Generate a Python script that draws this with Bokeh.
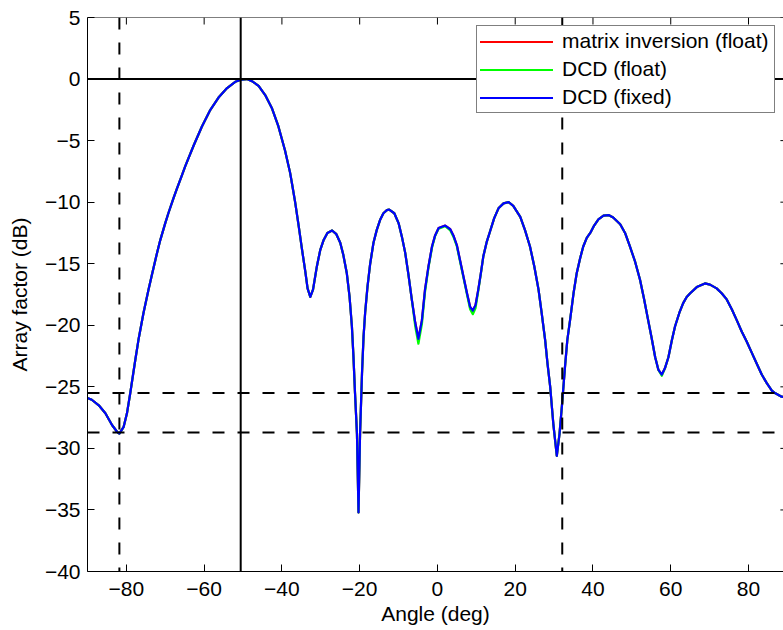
from bokeh.plotting import figure
from bokeh.models import (Span, Legend, LegendItem, FixedTicker,
                          Range1d, CustomJSTickFormatter)
from bokeh.embed import file_html
from bokeh.resources import INLINE

# ---------------- data ----------------
angle = [-90.0, -88.9, -87.1, -85.4, -83.7, -82.4, -81.8, -81.6, -80.7, -79.85,
         -79.0, -77.7, -76.9, -75.6, -74.3, -73.4, -72.1, -71.3, -70.0, -69.2,
         -67.9, -67.0, -65.7, -64.9, -62.7, -60.6, -58.4, -56.3, -54.1, -52.0,
         -50.3, -49.0, -47.7, -46.0, -44.3, -42.6, -40.9, -39.2, -37.9, -37.4,
         -36.6, -35.7, -34.9, -34.0, -33.4, -32.7, -32.0, -31.0, -30.15, -29.3,
         -28.3, -27.1, -26.0, -25.0, -24.2, -23.3, -22.6, -22.0, -21.6, -21.2,
         -20.7, -20.3, -19.9, -19.4, -19.0, -18.6, -18.0, -17.3, -16.45, -15.6,
         -14.7, -13.9, -13.0, -12.4, -11.1, -10.0, -9.15, -8.3, -7.45, -6.6,
         -5.7, -4.9, -4.0, -3.2, -2.3, -1.4, -0.6, 0.3, 2.0, 3.3,
         4.1, 5.0, 5.8, 6.7, 7.6, 8.4, 9.1, 9.8, 10.5, 11.15,
         11.8, 12.7, 13.5, 14.6, 15.7, 17.0, 18.3, 19.5, 21.3, 22.5,
         23.8, 24.9, 26.0, 26.8, 27.7, 28.3, 29.0, 29.8, 30.7, 31.4,
         32.0, 32.8, 33.4, 34.1, 35.0, 35.8, 36.7, 37.5, 38.4, 39.3,
         40.3, 41.4, 42.7, 44.0, 45.2, 47.0, 48.25, 49.5, 50.8, 52.1,
         53.1, 54.2, 55.1, 56.0, 56.8, 57.7, 58.5, 59.4, 60.3, 61.1,
         62.2, 63.2, 64.1, 65.0, 66.7, 68.8, 70.1, 71.8, 73.1, 74.4,
         75.7, 77.0, 78.25, 79.5, 80.8, 82.1, 83.4, 84.7, 86.0, 86.8,
         88.5, 90.0]

mi_float = [-25.9, -26.05, -26.5, -27.15, -28.1, -28.65, -28.8, -28.7, -28.25, -27.15,
            -25.5, -22.8, -21.2, -19.0, -17.1, -15.85, -14.1, -13.1, -11.7, -10.9,
            -9.7, -8.9, -7.8, -7.12, -5.4, -3.87, -2.5, -1.5, -0.73, -0.22,
            -0.04, 0.0, -0.17, -0.55, -1.3, -2.35, -3.85, -5.8, -7.6, -8.5,
            -10.0, -11.9, -13.7, -15.6, -17.0, -17.7, -17.1, -15.2, -13.9, -13.1,
            -12.5, -12.3, -12.6, -13.3, -14.3, -15.8, -17.7, -20.1, -22.55, -25.5,
            -28.8, -35.2, -28.8, -23.9, -20.9, -19.0, -16.9, -15.0, -13.3, -12.25,
            -11.4, -10.9, -10.65, -10.6, -10.9, -11.7, -12.8, -14.1, -15.9, -17.9,
            -19.8, -21.1, -19.6, -17.1, -15.2, -13.6, -12.7, -12.1, -11.9, -12.2,
            -12.7, -13.5, -14.7, -16.05, -17.4, -18.5, -18.8, -18.35, -17.1, -15.8,
            -14.4, -13.2, -12.4, -11.3, -10.5, -10.1, -10.0, -10.3, -11.2, -12.25,
            -13.6, -15.2, -17.1, -19.0, -21.2, -23.1, -25.0, -28.0, -30.6, -28.8,
            -26.6, -23.4, -21.2, -19.6, -17.4, -15.8, -14.55, -13.6, -12.9, -12.5,
            -11.9, -11.4, -11.1, -11.05, -11.25, -11.8, -12.5, -13.6, -14.8, -16.3,
            -17.8, -19.6, -21.05, -22.6, -23.6, -24.0, -23.5, -22.6, -21.2, -20.1,
            -19.0, -18.2, -17.7, -17.4, -16.9, -16.6, -16.7, -17.0, -17.4, -17.9,
            -18.7, -19.6, -20.5, -21.3, -22.2, -23.1, -24.0, -24.7, -25.3, -25.5,
            -25.8, -25.9]

dcd_float = [-25.9, -26.05, -26.5, -27.15, -28.1, -28.65, -28.8, -28.7, -28.25, -27.15,
             -25.5, -22.8, -21.2, -19.0, -17.1, -15.85, -14.1, -13.1, -11.7, -10.9,
             -9.7, -8.9, -7.8, -7.12, -5.4, -3.87, -2.5, -1.5, -0.73, -0.22,
             -0.04, 0.0, -0.17, -0.55, -1.3, -2.35, -3.85, -5.8, -7.6, -8.5,
             -10.0, -11.9, -13.7, -15.6, -17.0, -17.7, -17.1, -15.2, -13.9, -13.1,
             -12.5, -12.3, -12.6, -13.3, -14.3, -15.8, -17.7, -20.1, -22.55, -25.5,
             -28.8, -35.2, -28.8, -23.9, -20.9, -19.0, -16.9, -15.0, -13.3, -12.25,
             -11.4, -10.9, -10.65, -10.6, -10.9, -11.7, -12.8, -14.1, -15.9, -17.9,
             -20.1, -21.5, -19.9, -17.3, -15.3, -13.7, -12.75, -12.15, -11.95, -12.3,
             -12.8, -13.6, -14.8, -16.15, -17.5, -18.7, -19.1, -18.6, -17.2, -15.85,
             -14.4, -13.2, -12.4, -11.3, -10.5, -10.1, -10.0, -10.3, -11.2, -12.25,
             -13.6, -15.2, -17.1, -19.0, -21.2, -23.1, -25.0, -28.0, -30.6, -28.8,
             -26.6, -23.4, -21.2, -19.6, -17.4, -15.8, -14.55, -13.6, -12.9, -12.5,
             -11.9, -11.4, -11.1, -11.05, -11.25, -11.8, -12.5, -13.6, -14.8, -16.3,
             -17.8, -19.6, -21.05, -22.6, -23.6, -24.1, -23.5, -22.6, -21.2, -20.1,
             -19.0, -18.2, -17.7, -17.4, -16.9, -16.6, -16.7, -17.0, -17.4, -17.9,
             -18.7, -19.6, -20.5, -21.3, -22.2, -23.1, -24.0, -24.7, -25.3, -25.5,
             -25.8, -25.9]

dcd_fixed = [-25.9, -26.05, -26.5, -27.15, -28.1, -28.65, -28.8, -28.7, -28.25, -27.15,
             -25.5, -22.8, -21.2, -19.0, -17.1, -15.85, -14.1, -13.1, -11.7, -10.9,
             -9.7, -8.9, -7.8, -7.12, -5.4, -3.87, -2.5, -1.5, -0.73, -0.22,
             -0.04, 0.0, -0.17, -0.55, -1.3, -2.35, -3.85, -5.8, -7.6, -8.5,
             -10.0, -11.9, -13.7, -15.6, -17.0, -17.7, -17.1, -15.2, -13.9, -13.1,
             -12.5, -12.3, -12.6, -13.3, -14.3, -15.8, -17.7, -20.1, -22.55, -25.5,
             -28.8, -35.2, -28.8, -23.9, -20.9, -19.0, -16.9, -15.0, -13.3, -12.25,
             -11.4, -10.9, -10.65, -10.6, -10.9, -11.7, -12.8, -14.1, -15.9, -17.9,
             -19.8, -21.1, -19.6, -17.1, -15.2, -13.6, -12.7, -12.1, -11.9, -12.2,
             -12.7, -13.5, -14.7, -16.05, -17.4, -18.5, -18.8, -18.35, -17.1, -15.8,
             -14.4, -13.2, -12.4, -11.3, -10.5, -10.1, -10.0, -10.3, -11.2, -12.25,
             -13.6, -15.2, -17.1, -19.0, -21.2, -23.1, -25.0, -28.0, -30.6, -28.8,
             -26.6, -23.4, -21.2, -19.6, -17.4, -15.8, -14.55, -13.6, -12.9, -12.5,
             -11.9, -11.4, -11.1, -11.05, -11.25, -11.8, -12.5, -13.6, -14.8, -16.3,
             -17.8, -19.6, -21.05, -22.6, -23.6, -24.0, -23.5, -22.6, -21.2, -20.1,
             -19.0, -18.2, -17.7, -17.4, -16.9, -16.6, -16.7, -17.0, -17.4, -17.9,
             -18.7, -19.6, -20.5, -21.3, -22.2, -23.1, -24.0, -24.7, -25.3, -25.5,
             -25.8, -25.9]

series_labels = ["matrix inversion (float)", "DCD (float)", "DCD (fixed)"]
series_colors = ["#ff0000", "#00ff00", "#0000ff"]

x_ticks = [-80, -60, -40, -20, 0, 20, 40, 60, 80]
y_ticks = [-40, -35, -30, -25, -20, -15, -10, -5, 0, 5]

steer_angle = [-50.6]          # solid vertical line
ref_level = [0]                # solid horizontal line
null_angles = [-81.8, 32.1]    # dashed vertical lines
null_levels = [-25.5, -28.7]   # dashed horizontal lines

# ---------------- figure ----------------
FONT = "Liberation Sans"
FS = "21px"
W, H = 783, 630
BL, BR, BT, BB = 87, 0, 17, 59
X0, X1 = -90, 89          # visible part of the -90..90 axis
Y0, Y1 = -40, 5
AXIS_END = 90

p = figure(width=W, height=H,
           x_range=Range1d(X0, X1), y_range=Range1d(Y0, Y1),
           output_backend="svg", toolbar_location=None,
           min_border_left=BL, min_border_right=BR,
           min_border_top=BT, min_border_bottom=BB,
           x_axis_label="Angle (deg)", y_axis_label="Array factor (dB)")
p.outline_line_color = None
p.xgrid.visible = False
p.ygrid.visible = False
p.background_fill_color = "white"
p.border_fill_color = "white"

minus_fmt = CustomJSTickFormatter(code="return String(tick).replace('-', '\\u2212');")

for ax, ticks in ((p.xaxis[0], x_ticks), (p.yaxis[0], y_ticks)):
    ax.ticker = FixedTicker(ticks=ticks)
    ax.formatter = minus_fmt
    ax.major_tick_in = 7
    ax.major_tick_out = 0
    ax.minor_tick_line_color = None
    ax.axis_line_color = "black"
    ax.axis_line_width = 1
    ax.major_tick_line_color = "black"
    ax.major_tick_line_width = 1
    ax.major_label_text_font = FONT
    ax.major_label_text_font_size = FS
    ax.major_label_text_color = "black"
    ax.axis_label_text_font = FONT
    ax.axis_label_text_font_size = FS
    ax.axis_label_text_font_style = "normal"
    ax.axis_label_text_color = "black"

p.xaxis[0].major_label_standoff = 10
p.xaxis[0].axis_label_standoff = 3
p.yaxis[0].major_label_standoff = 7
p.yaxis[0].axis_label_standoff = 11

# box: top border line plus inward ticks on top and right edges
frame_w = W - BL - BR
frame_h = H - BT - BB
tick_dy = 7 * (Y1 - Y0) / frame_h
tick_dx = 7 * (X1 - X0) / frame_w
p.add_layout(Span(location=Y1, dimension="width", line_color="black", line_width=1))
p.segment(x0=x_ticks, y0=[Y1] * len(x_ticks), x1=x_ticks,
          y1=[Y1 - tick_dy] * len(x_ticks), line_color="black", line_width=1)
p.segment(x0=[AXIS_END] * len(y_ticks), y0=y_ticks,
          x1=[AXIS_END - tick_dx] * len(y_ticks), y1=y_ticks,
          line_color="black", line_width=1)

# ---------------- curves ----------------
renderers = []
for vals, col in zip([mi_float, dcd_float, dcd_fixed], series_colors):
    r = p.line(angle, vals, line_color=col, line_width=2.2,
               line_join="round", line_cap="round")
    renderers.append(r)

# ---------------- reference lines ----------------
for a in steer_angle:
    p.add_layout(Span(location=a, dimension="height", line_color="black", line_width=2))
for lv in ref_level:
    p.add_layout(Span(location=lv, dimension="width", line_color="black", line_width=2))
for a in null_angles:
    p.add_layout(Span(location=a, dimension="height", line_color="black",
                      line_width=2, line_dash="12 13"))
for lv in null_levels:
    p.add_layout(Span(location=lv, dimension="width", line_color="black",
                      line_width=2, line_dash="12 13"))

# ---------------- legend ----------------
legend = Legend(items=[LegendItem(label=lab, renderers=[r])
                       for lab, r in zip(series_labels, renderers)],
                location=(389, 458))
legend.label_text_font = FONT
legend.label_text_font_size = FS
legend.label_text_color = "black"
legend.glyph_width = 73
legend.glyph_height = 23
legend.label_height = 23
legend.label_width = 209
legend.label_standoff = 9
legend.spacing = 4
legend.padding = 3
legend.margin = 0
legend.border_line_color = "black"
legend.border_line_width = 1
legend.background_fill_color = "white"
legend.background_fill_alpha = 1.0
p.add_layout(legend)

open("out.html", "w").write(file_html(p, INLINE))
